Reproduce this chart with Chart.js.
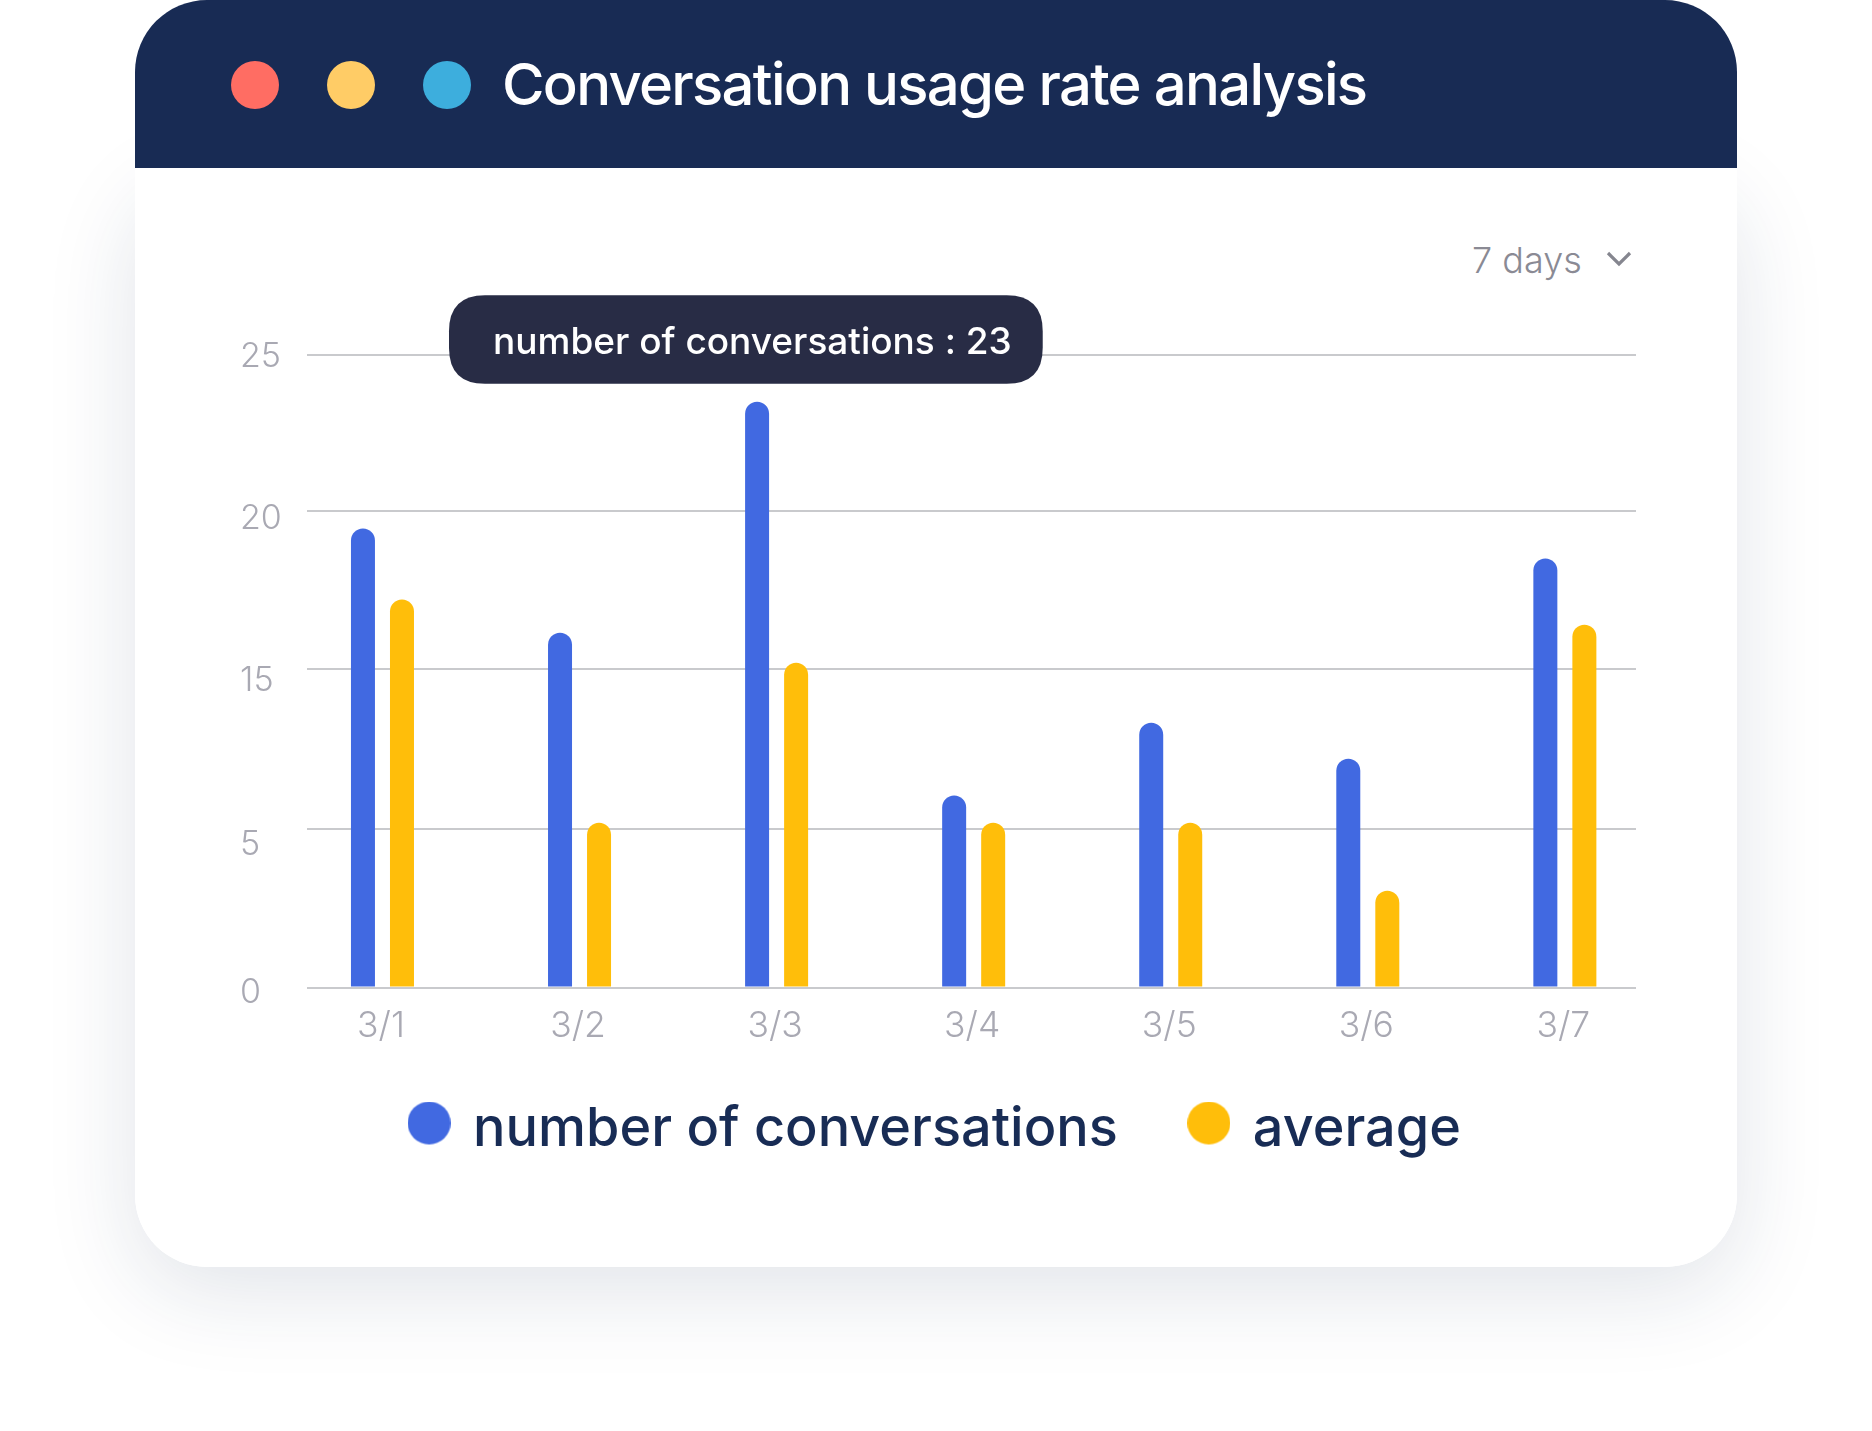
<!DOCTYPE html>
<html><head><meta charset="utf-8">
<style>
html,body{margin:0;padding:0;background:#fff;width:1872px;height:1431px;overflow:hidden;font-family:Inter,sans-serif}
#shadow{position:absolute;left:135px;top:168px;width:1602px;height:1099px;border-radius:72px;box-shadow:0 24px 90px rgba(24,44,85,.13)}
#card{position:absolute;left:135px;top:0;width:1602px;height:1267px;background:#fff;border-radius:72px}
#head{position:absolute;left:135px;top:0;width:1602px;height:168px;background:#182B54;border-radius:72px 72px 0 0}
.dot{position:absolute;top:61px;width:48px;height:48px;border-radius:50%}
#title{position:absolute;left:502px;top:45px;font-size:58px;line-height:78px;font-weight:500;color:#fff;white-space:nowrap;letter-spacing:-1.7px}
#range{position:absolute;left:1472px;top:238px;font-size:36px;line-height:44px;color:#8A8A94;font-weight:300;white-space:nowrap}
#chev{position:absolute;left:1606px;top:250px}
canvas{position:absolute;left:0;top:0}
</style></head><body>
<div id="shadow"></div><div id="card"></div><div id="head"></div>
<div class="dot" style="left:231px;background:#FF6D63"></div>
<div class="dot" style="left:327px;background:#FFCC66"></div>
<div class="dot" style="left:423px;background:#3DAEDD"></div>
<div id="title">Conversation usage rate analysis</div>
<div id="range">7 days</div>
<svg id="chev" width="26" height="18" viewBox="0 0 26 18"><path d="M2 3 L13 14 L24 3" fill="none" stroke="#85868F" stroke-width="3.2"/></svg>
<canvas id="c" width="1872" height="1431" style="width:1872px;height:1431px"></canvas>
<script src="https://cdn.jsdelivr.net/npm/chart.js@4"></script>
<script>
const categories = ['3/1','3/2','3/3','3/4','3/5','3/6','3/7'];
const conversations = [19.45,16.15,23.5,7.1,11.65,9.4,18.5];
const average = [17.2,5.4,15.2,5.4,5.4,3.05,16.4];
const yTicks = [0,5,15,20,25];
const conversationsName = 'number of conversations';
const averageName = 'average';
const pillText = 'number of conversations : 23';
const blue = '#4169E1';
const amber = '#FFBE0A';

const axisStops = [0,0.2505,0.5034,0.7533,1];
const yLabelShift = [5,16,12,8,2];
const yLabelInset = 3;

class SteppedScale extends Chart.LinearScale {
  static id = 'stepped';
  getPixelForValue(v){
    let i = 0;
    while(i < yTicks.length-2 && v > yTicks[i+1]) i++;
    const t = (v-yTicks[i])/(yTicks[i+1]-yTicks[i]);
    return this.getPixelForDecimal(axisStops[i]+t*(axisStops[i+1]-axisStops[i]));
  }
  _computeLabelItems(ca){
    const items = super._computeLabelItems(ca);
    items.forEach((it,i)=>{
      it.options.translation[0] += yLabelInset;
      it.options.translation[1] += yLabelShift[i];
    });
    return items;
  }
}
Chart.register(SteppedScale);
Chart.Tooltip.positioners.pill = function(){ return {x:449,y:339.5}; };

function legendDot(color){
  const d = document.createElement('canvas');
  d.width = 43; d.height = 57;
  const g = d.getContext('2d');
  g.fillStyle = color;
  g.beginPath(); g.arc(21.5,21.5,21.5,0,Math.PI*2); g.fill();
  return d;
}
const dots = [legendDot(blue),legendDot(amber)];
const extendXClip = {id:'extendXClip',afterLayout(c){ c.scales.x.bottom += 40; }};

const points = arr => arr.map((v,i)=>({x:i,y:v}));
const xTickFont = {family:'Inter',size:35.5,weight:'300'};
const yTickFont = {family:'Inter',size:34,weight:'300'};
const chart = new Chart(document.getElementById('c'),{
  type:'bar',
  plugins:[extendXClip],
  data:{labels:categories,datasets:[
    {label:conversationsName,data:points(conversations),backgroundColor:blue,
     categoryPercentage:0.396,barPercentage:0.615,borderSkipped:false,
     borderRadius:{topLeft:12,topRight:12,bottomLeft:0,bottomRight:0}},
    {label:averageName,data:points(average),backgroundColor:amber,
     categoryPercentage:0.396,barPercentage:0.615,borderSkipped:false,
     borderRadius:{topLeft:12,topRight:12,bottomLeft:0,bottomRight:0}}
  ]},
  options:{
    responsive:false,animation:false,events:[],devicePixelRatio:1,
    layout:{padding:{left:237,right:236,top:355,bottom:264}},
    scales:{
      x:{type:'linear',offset:false,min:-0.385,max:6.361,
         afterBuildTicks:s=>{s.ticks=categories.map((_,i)=>({value:i}));},
         afterFit:s=>{s.height=41.5;},
         grid:{display:false},border:{display:false},
         ticks:{callback:v=>categories[v],autoSkip:false,maxRotation:0,minRotation:0,color:'#A9A9B3',font:xTickFont,padding:10,labelOffset:-1.5}},
      y:{type:'stepped',min:0,max:25,
         afterBuildTicks:s=>{s.ticks=yTicks.map(v=>({value:v}));},
         afterFit:s=>{s.width=69.6;},
         grid:{color:'#C9CACD',lineWidth:2,drawTicks:false},border:{display:false},
         ticks:{callback:v=>String(v),crossAlign:'far',color:'#A9A9B3',font:yTickFont,padding:0,autoSkip:false}}
    },
    plugins:{
      legend:{position:'bottom',align:'center',
        labels:{usePointStyle:true,boxWidth:34,boxHeight:30,padding:74,
                generateLabels(c){
                  const items = Chart.defaults.plugins.legend.labels.generateLabels(c);
                  items.forEach((it,i)=>{ it.pointStyle = dots[i]; });
                  return items;
                },
                color:'#182C55',font:{family:'Inter',size:54,weight:'500'}}},
      tooltip:{enabled:true,animation:false,position:'pill',xAlign:'left',yAlign:'center',caretSize:0,caretPadding:0,
        backgroundColor:'#282C45',cornerRadius:36,displayColors:false,
        padding:{left:44,right:31,top:25,bottom:19},bodyColor:'#fff',bodyFont:{family:'Inter',size:37,weight:'500'},
        callbacks:{title:()=>'',label:()=>pillText}}
    }
  }
});
chart.tooltip.setActiveElements([{datasetIndex:0,index:2}],{x:0,y:0});
chart.render();
</script>
</body></html>
